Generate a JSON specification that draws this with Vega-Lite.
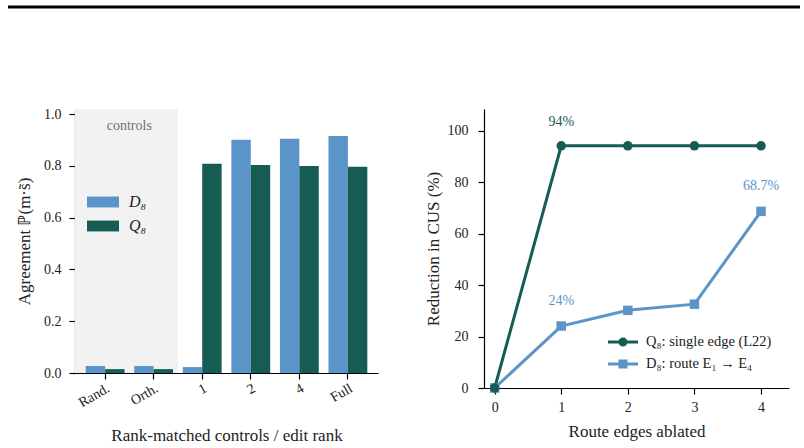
{
  "$schema": "https://vega.github.io/schema/vega-lite/v6.json",
  "padding": {"left": 6, "top": 5, "right": 6, "bottom": 0},
  "background": "white",
  "spacing": 98,
  "vconcat": [
    {
      "width": 725,
      "height": 1,
      "data": {"values": [{"pos": 1, "x0": -0.0924, "x1": 1}]},
      "mark": {"type": "rule", "strokeWidth": 3, "color": "black"},
      "encoding": {
        "x": {"field": "x0", "type": "quantitative", "scale": {"domain": [0, 1], "nice": false, "zero": false}, "axis": null},
        "x2": {"field": "x1"},
        "y": {"field": "pos", "type": "quantitative", "scale": {"domain": [0, 1]}, "axis": null}
      }
    },
    {
      "hconcat": [
        {
          "width": 303,
          "height": 264,
          "layer": [
            {
              "data": {"values": [{"start": -0.62, "end": 1.5, "mid": 0.5, "label": "controls", "ymin": 0, "ymax": 1.02, "ylab": 0.955}]},
              "layer": [
                {
                  "mark": {"type": "rect", "color": "#f2f2f2"},
                  "encoding": {
                    "x": {"field": "start", "type": "quantitative", "scale": {"domain": [-0.617, 5.617], "nice": false, "zero": false}, "axis": null},
                    "x2": {"field": "end"},
                    "y": {"field": "ymin", "type": "quantitative", "scale": {"domain": [0, 1.02], "nice": false}, "title": ["", "Agreement ℙ(m·s̃)"]},
                    "y2": {"field": "ymax"}
                  }
                },
                {
                  "mark": {"type": "text", "color": "#707070", "fontSize": 14},
                  "encoding": {
                    "x": {"field": "mid", "type": "quantitative"},
                    "y": {"field": "ylab", "type": "quantitative", "title": ["", "Agreement ℙ(m·s̃)"]},
                    "text": {"field": "label"}
                  }
                }
              ]
            },
            {
              "data": {"values": [
                {"group": "Rand.", "series": "D₈", "value": 0.027},
                {"group": "Rand.", "series": "Q₈", "value": 0.015},
                {"group": "Orth.", "series": "D₈", "value": 0.027},
                {"group": "Orth.", "series": "Q₈", "value": 0.015},
                {"group": "1", "series": "D₈", "value": 0.023},
                {"group": "1", "series": "Q₈", "value": 0.808},
                {"group": "2", "series": "D₈", "value": 0.901},
                {"group": "2", "series": "Q₈", "value": 0.804},
                {"group": "4", "series": "D₈", "value": 0.905},
                {"group": "4", "series": "Q₈", "value": 0.800},
                {"group": "Full", "series": "D₈", "value": 0.916},
                {"group": "Full", "series": "Q₈", "value": 0.797}
              ]},
              "mark": {"type": "bar"},
              "encoding": {
                "x": {
                  "field": "group", "type": "nominal",
                  "sort": ["Rand.", "Orth.", "1", "2", "4", "Full"],
                  "scale": {"paddingInner": 0.2, "paddingOuter": 0.22},
                  "axis": {"orient": "bottom", "labelAngle": -30, "labelAlign": "right", "labelBaseline": "top", "labelPadding": 2, "titlePadding": 18, "title": "Rank-matched controls / edit rank"}
                },
                "xOffset": {"field": "series", "type": "nominal", "scale": {"domain": ["D₈", "Q₈"], "paddingInner": 0, "paddingOuter": 0}},
                "y": {
                  "field": "value", "type": "quantitative",
                  "title": ["", "Agreement ℙ(m·s̃)"],
                  "axis": {"values": [0, 0.2, 0.4, 0.6, 0.8, 1.0], "format": ".1f", "labelPadding": 8, "titlePadding": 10, "titleLineHeight": 8}
                },
                "color": {
                  "field": "series", "type": "nominal",
                  "scale": {"domain": ["D₈", "Q₈"], "range": ["#5b94c8", "#175c53"]},
                  "legend": {
                    "orient": "none", "legendX": 12, "legendY": 77, "title": null,
                    "symbolType": "M-1,-0.34H1V0.34H-1Z", "symbolSize": 1024,
                    "labelFontSize": 16, "labelFontStyle": "italic", "labelOffset": 10,
                    "rowPadding": -8, "symbolStrokeWidth": 0, "labelColor": "#222222"
                  }
                }
              }
            }
          ],
          "resolve": {"scale": {"x": "independent"}}
        },
        {
          "width": 305,
          "height": 279,
          "data": {"values": [
            {"x": 0, "series": "D₈: route E₁ → E₄", "value": 0},
            {"x": 1, "series": "D₈: route E₁ → E₄", "value": 24.1},
            {"x": 2, "series": "D₈: route E₁ → E₄", "value": 30.2},
            {"x": 3, "series": "D₈: route E₁ → E₄", "value": 32.6},
            {"x": 4, "series": "D₈: route E₁ → E₄", "value": 68.7},
            {"x": 0, "series": "Q₈: single edge (L22)", "value": 0},
            {"x": 1, "series": "Q₈: single edge (L22)", "value": 94.2},
            {"x": 2, "series": "Q₈: single edge (L22)", "value": 94.2},
            {"x": 3, "series": "Q₈: single edge (L22)", "value": 94.2},
            {"x": 4, "series": "Q₈: single edge (L22)", "value": 94.2}
          ]},
          "layer": [
            {
              "transform": [{"filter": "datum.series === 'D₈: route E₁ → E₄'"}],
              "mark": {"type": "line", "strokeWidth": 3, "color": "#5b94c8"},
              "encoding": {
                "x": {"field": "x", "type": "quantitative", "scale": {"domain": [-0.16, 4.42], "nice": false, "zero": false},
                      "axis": {"values": [0, 1, 2, 3, 4], "format": "d", "labelPadding": 6, "titlePadding": 9}, "title": "Route edges ablated"},
                "y": {"field": "value", "type": "quantitative", "scale": {"domain": [0, 108.5], "nice": false},
                      "axis": {"values": [0, 20, 40, 60, 80, 100], "labelPadding": 10, "titlePadding": 5}, "title": "Reduction in CUS (%)"}
              }
            },
            {
              "transform": [{"filter": "datum.series === 'Q₈: single edge (L22)'"}],
              "mark": {"type": "line", "strokeWidth": 3, "color": "#175c53"},
              "encoding": {
                "x": {"field": "x", "type": "quantitative"},
                "y": {"field": "value", "type": "quantitative"}
              }
            },
            {
              "transform": [{"filter": "datum.series === 'D₈: route E₁ → E₄'"}],
              "mark": {"type": "point", "shape": "square", "filled": true, "size": 90, "opacity": 1, "color": "#5b94c8"},
              "encoding": {
                "x": {"field": "x", "type": "quantitative"},
                "y": {"field": "value", "type": "quantitative"}
              }
            },
            {
              "transform": [{"filter": "datum.series === 'Q₈: single edge (L22)'"}],
              "mark": {"type": "point", "shape": "circle", "filled": true, "size": 90, "opacity": 1, "color": "#175c53"},
              "encoding": {
                "x": {"field": "x", "type": "quantitative"},
                "y": {"field": "value", "type": "quantitative"}
              }
            },
            {
              "data": {"values": [
                {"x": 1, "value": 94.2, "series": "Q₈: single edge (L22)", "label": "94%"}
              ]},
              "mark": {"type": "text", "fontSize": 14, "dy": -24, "color": "#175c53"},
              "encoding": {
                "x": {"field": "x", "type": "quantitative"},
                "y": {"field": "value", "type": "quantitative"},
                "text": {"field": "label"}
              }
            },
            {
              "data": {"values": [
                {"x": 1, "value": 24.1, "series": "D₈: route E₁ → E₄", "label": "24%"},
                {"x": 4, "value": 68.7, "series": "D₈: route E₁ → E₄", "label": "68.7%"}
              ]},
              "mark": {"type": "text", "fontSize": 14, "dy": -25, "color": "#5b94c8"},
              "encoding": {
                "x": {"field": "x", "type": "quantitative"},
                "y": {"field": "value", "type": "quantitative"},
                "text": {"field": "label"}
              }
            },
            {
              "data": {"values": []},
              "mark": {"type": "point", "filled": true, "opacity": 1},
              "encoding": {
                "x": {"field": "x", "type": "quantitative"},
                "y": {"field": "value", "type": "quantitative"},
                "color": {
                  "field": "series", "type": "nominal",
                  "scale": {"domain": ["Q₈: single edge (L22)", "D₈: route E₁ → E₄"], "range": ["#175c53", "#5b94c8"]},
                  "legend": {
                    "orient": "none", "legendX": 124, "legendY": 218, "title": null,
                    "symbolSize": 900, "labelFontSize": 14.5, "labelOffset": 8, "rowPadding": -15,
                    "labelColor": "#222222", "symbolOpacity": 1, "symbolStrokeWidth": 0
                  }
                },
                "shape": {
                  "field": "series", "type": "nominal",
                  "scale": {"domain": ["Q₈: single edge (L22)", "D₈: route E₁ → E₄"],
                            "range": ["M-1,-0.1H1V0.1H-1Z M-0.3,0A0.3,0.3,0,1,1,0.3,0A0.3,0.3,0,1,1,-0.3,0Z", "M-1,-0.1H1V0.1H-1Z M-0.3,-0.3H0.3V0.3H-0.3Z"]},
                  "legend": {
                    "orient": "none", "legendX": 124, "legendY": 218, "title": null,
                    "symbolSize": 900, "labelFontSize": 14.5, "labelOffset": 8, "rowPadding": -15,
                    "labelColor": "#222222", "symbolOpacity": 1, "symbolStrokeWidth": 0
                  }
                }
              }
            }
          ]
        }
      ],
      "spacing": 46,
      "resolve": {"scale": {"color": "independent", "shape": "independent"}, "legend": {"color": "independent", "shape": "independent"}}
    }
  ],
  "config": {
    "font": "Liberation Serif",
    "view": {"stroke": null},
    "axis": {
      "grid": false,
      "domainColor": "black",
      "domainWidth": 1.2,
      "tickColor": "black",
      "tickWidth": 1.2,
      "tickSize": 6,
      "labelFontSize": 14,
      "labelColor": "#222222",
      "titleFontSize": 17,
      "titleFontWeight": "normal",
      "titleColor": "#222222",
      "labelFont": "Liberation Serif",
      "titleFont": "Liberation Serif"
    },
    "legend": {"labelFont": "Liberation Serif"},
    "text": {"font": "Liberation Serif"}
  }
}
